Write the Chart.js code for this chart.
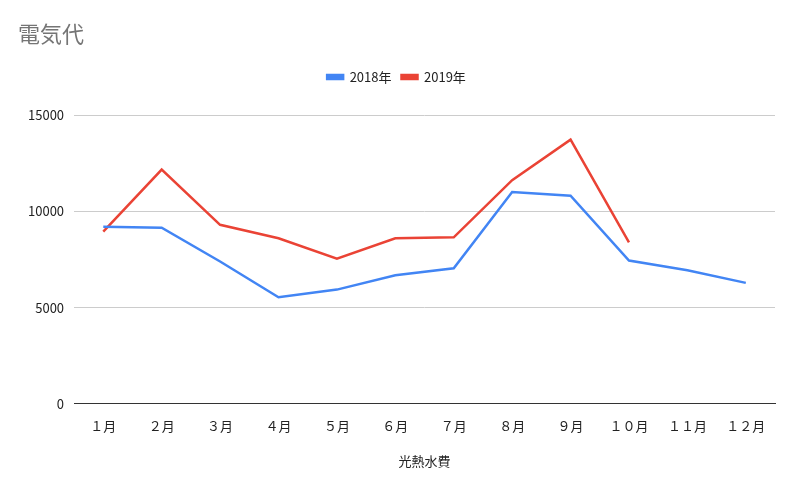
<!DOCTYPE html>
<html><head><meta charset="utf-8">
<script src="https://cdn.jsdelivr.net/npm/chart.js@4"></script>
<style>html,body{margin:0;padding:0;background:#fff}#w{width:800px;height:495px}</style>
</head><body><div id="w"><canvas id="c"></canvas></div>
<script>
const categories=["１月","２月","３月","４月","５月","６月","７月","８月","９月","１０月","１１月","１２月"];
const series2018=[9210,9160,7400,5540,5940,6690,7050,11020,10820,7450,6950,6290];
const series2019=[8960,12180,9310,8610,7550,8610,8660,11630,13740,8400,null,null];
const yTicks=[0,5000,10000,15000];
const font="'Noto Sans CJK JP','Noto Sans',sans-serif";
new Chart(document.getElementById('c'),{
type:'line',
data:{labels:categories,datasets:[
{label:'2018年',data:series2018,borderColor:'#4285F4',backgroundColor:'#4285F4',borderWidth:2.5,pointRadius:0,tension:0},
{label:'2019年',data:series2019,borderColor:'#EA4335',backgroundColor:'#EA4335',borderWidth:2.5,pointRadius:0,tension:0,spanGaps:false}]},
options:{responsive:true,maintainAspectRatio:false,animation:false,
layout:{padding:{left:18,right:25,top:14,bottom:22}},
plugins:{
title:{display:true,text:'電気代',align:'start',color:'#757575',font:{family:font,size:22,weight:'normal'},padding:{top:6,bottom:14}},
legend:{labels:{boxWidth:16,boxHeight:4,color:'#222',font:{family:font,size:13},padding:10},padding:0},
tooltip:{enabled:false}},
scales:{
x:{offset:true,grid:{display:false},border:{color:'#333'},ticks:{color:'#222',font:{family:font,size:13},padding:6},
title:{display:true,text:'光熱水費',color:'#222',font:{family:font,size:13},padding:{top:14}}},
y:{min:0,max:15000,afterBuildTicks:a=>{a.ticks=yTicks.map(v=>({value:v}));},
grid:{color:'#cccccc',drawTicks:false},border:{display:false},
ticks:{color:'#222',padding:10,font:{family:font,size:13},callback:v=>String(v)}}}},
plugins:[{id:'gap',beforeInit(c){const f=c.legend.fit;c.legend.fit=function(){f.bind(c.legend)();this.height+=22;};}}]
});
</script></body></html>
